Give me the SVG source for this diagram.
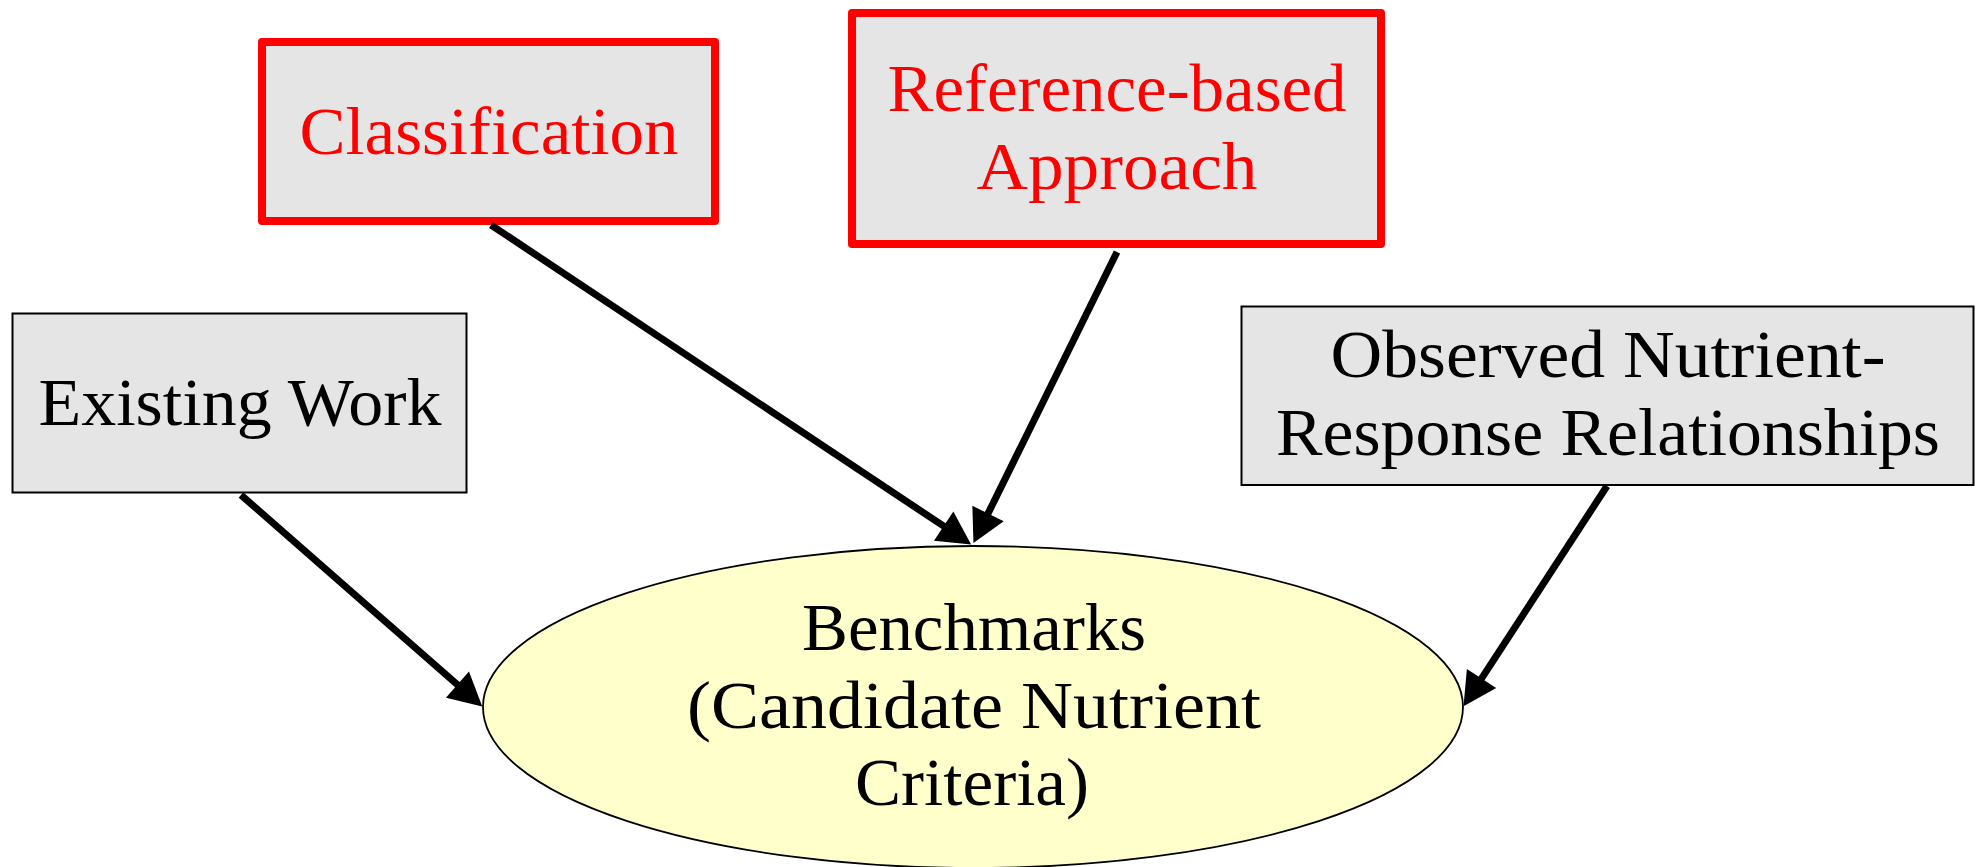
<svg xmlns="http://www.w3.org/2000/svg" width="1976" height="867" viewBox="0 0 1976 867">
  <style>
    .box { fill: #e5e5e5; stroke: #000; stroke-width: 2; }
    .red { fill: #e5e5e5; stroke: #ff0000; stroke-width: 8; stroke-linejoin: round; }
    .ell { fill: #ffffcc; stroke: #000; stroke-width: 1.8; }
    .t { font-family: "Liberation Serif", "DejaVu Serif", serif; font-size: 67px; text-anchor: middle; fill: #000; }
    .tr { fill: #ff0000; }
    .edge { fill: none; stroke: #000; stroke-width: 7; }
  </style>
  <defs>
    <marker id="ah" markerUnits="userSpaceOnUse" markerWidth="34" markerHeight="36" refX="1" refY="17.5" orient="auto" overflow="visible">
      <path d="M0,0 L33,17.5 L0,35 Z" fill="#000"/>
    </marker>
  </defs>
  <rect width="1976" height="867" fill="#fff"/>
  <g id="node-classification">
    <rect class="red" x="262" y="42" width="453" height="179"/>
    <text class="t tr" x="489" y="154" textLength="379" lengthAdjust="spacingAndGlyphs">Classification</text>
  </g>
  <g id="node-reference">
    <rect class="red" x="852" y="13" width="529" height="231"/>
    <text class="t tr" x="1117" y="111" textLength="459" lengthAdjust="spacingAndGlyphs">Reference-based</text>
    <text class="t tr" x="1117" y="189" textLength="281" lengthAdjust="spacingAndGlyphs">Approach</text>
  </g>
  <g id="node-existing">
    <rect class="box" x="12.5" y="313.5" width="454" height="179"/>
    <text class="t" x="240" y="425" textLength="403" lengthAdjust="spacingAndGlyphs">Existing Work</text>
  </g>
  <g id="node-observed">
    <rect class="box" x="1241.5" y="306.5" width="732" height="178.5"/>
    <text class="t" x="1608" y="377" textLength="555" lengthAdjust="spacingAndGlyphs">Observed Nutrient-</text>
    <text class="t" x="1608" y="455" textLength="664" lengthAdjust="spacingAndGlyphs">Response Relationships</text>
  </g>
  <g id="node-benchmarks">
    <ellipse class="ell" cx="973" cy="707" rx="490" ry="161"/>
    <text class="t" x="974" y="650" textLength="344" lengthAdjust="spacingAndGlyphs">Benchmarks</text>
    <text class="t" x="974" y="728" textLength="574" lengthAdjust="spacingAndGlyphs">(Candidate Nutrient</text>
    <text class="t" x="972" y="805" textLength="234" lengthAdjust="spacingAndGlyphs">Criteria)</text>
  </g>
  <g id="connectors">
    <path class="edge" d="M241,495 L458.2,685.3" marker-end="url(#ah)"/>
    <path class="edge" d="M491,225 L944.5,526.7" marker-end="url(#ah)"/>
    <path class="edge" d="M1117,252 L987.6,514.4" marker-end="url(#ah)"/>
    <path class="edge" d="M1607,486 L1481,679.4" marker-end="url(#ah)"/>
  </g>
</svg>
